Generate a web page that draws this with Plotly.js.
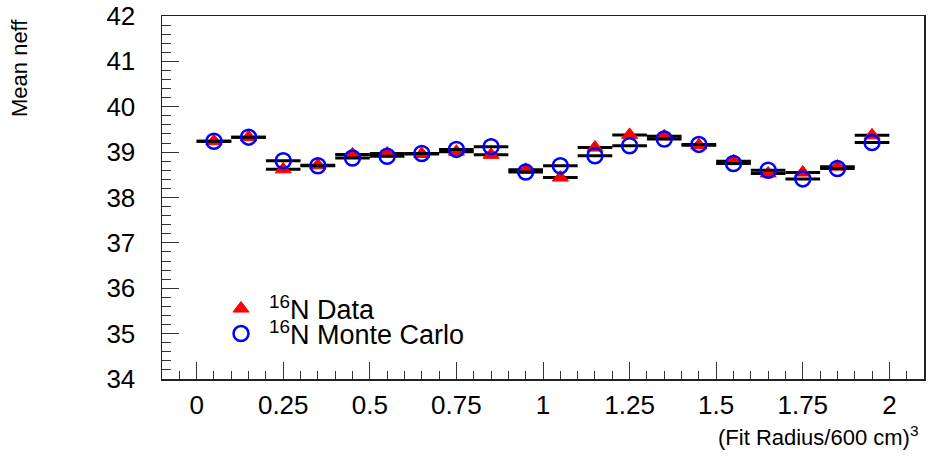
<!DOCTYPE html>
<html>
<head>
<meta charset="utf-8">
<script src="https://cdn.plot.ly/plotly-3.0.1.min.js"></script>
<style>html,body{margin:0;padding:0;background:#fff;}#chart{width:928px;height:456px;}</style>
</head>
<body>
<div id="chart"></div>
<script>
// Bin centres of (Fit Radius/600 cm)^3, bin width 0.1
const binCenters = [0.05, 0.15, 0.25, 0.35, 0.45, 0.55, 0.65, 0.75, 0.85, 0.95,
                    1.05, 1.15, 1.25, 1.35, 1.45, 1.55, 1.65, 1.75, 1.85, 1.95];
const binHalfWidth = 0.05;
// Mean neff, 16N data
const dataNeff = [39.24, 39.33, 38.62, 38.71, 38.95, 38.97, 38.96, 39.01, 38.94, 38.61,
                  38.44, 39.10, 39.38, 39.35, 39.15, 38.80, 38.53, 38.55, 38.68, 39.37];
// Mean neff, 16N Monte Carlo
const mcNeff = [39.24, 39.33, 38.81, 38.70, 38.87, 38.91, 38.97, 39.06, 39.12, 38.56,
                38.70, 38.92, 39.14, 39.29, 39.17, 38.75, 38.60, 38.41, 38.64, 39.21];
const xTickVals = [0, 0.25, 0.5, 0.75, 1, 1.25, 1.5, 1.75, 2];
const xTickText = ["0", "0.25", "0.5", "0.75", "1", "1.25", "1.5", "1.75", "2"];
const yTickVals = [34, 35, 36, 37, 38, 39, 40, 41, 42];
const yTickText = ["34", "35", "36", "37", "38", "39", "40", "41", "42"];
const seriesNames = ["<sup>16</sup>N Data", "<sup>16</sup>N Monte Carlo"];
const xTitle = "(Fit Radius/600 cm)<sup>3</sup>";
const yTitle = "Mean neff";

const FONT = '"Liberation Sans", Arial, Helvetica, sans-serif';
const W = 928, H = 456;
const M = {l: 162, r: 4, t: 16, b: 77};
const pw = W - M.l - M.r, ph = H - M.t - M.b;
const px = x => (x - M.l) / pw;
const py = y => (H - M.b - y) / ph;

const traces = [
  {
    x: binCenters, y: dataNeff, type: 'scatter', mode: 'markers', name: seriesNames[0],
    legend: 'legend',
    marker: {symbol: 'triangle-up', size: 14, color: '#ff0000', line: {color: '#ff0000', width: 1}},
    error_x: {type: 'constant', value: binHalfWidth, width: 0, thickness: 3, color: '#000000'}
  },
  {
    x: binCenters, y: mcNeff, type: 'scatter', mode: 'markers', name: seriesNames[1],
    legend: 'legend2',
    marker: {symbol: 'circle-open', size: 15, color: '#0000ff', line: {color: '#0000ff', width: 2.5}},
    error_x: {type: 'constant', value: binHalfWidth, width: 0, thickness: 3, color: '#000000'}
  }
];

const axisCommon = {
  showgrid: false, zeroline: false, showline: true, mirror: true,
  linecolor: '#222', linewidth: 1.5,
  ticks: 'inside', tickcolor: '#333', tickwidth: 1,
  tickfont: {family: FONT, size: 26, color: '#000'}
};

const legendCommon = {
  xanchor: 'left', yanchor: 'middle', bgcolor: 'rgba(0,0,0,0)', borderwidth: 0,
  font: {family: FONT, size: 27, color: '#000'}, itemwidth: 46
};

const layout = {
  width: W, height: H, margin: M,
  paper_bgcolor: '#fff', plot_bgcolor: '#fff',
  showlegend: true,
  xaxis: Object.assign({}, axisCommon, {
    range: [-0.1, 2.1], tickmode: 'array', tickvals: xTickVals, ticktext: xTickText,
    ticklen: 17, ticklabelstandoff: 2,
    minor: {dtick: 0.05, tick0: 0, ticks: 'inside', ticklen: 8, tickcolor: '#333', tickwidth: 1, showgrid: false}
  }),
  yaxis: Object.assign({}, axisCommon, {
    range: [34, 42], tickmode: 'array', tickvals: yTickVals, ticktext: yTickText,
    ticklen: 17, ticklabelstandoff: 20,
    minor: {dtick: 0.2, tick0: 34, ticks: 'inside', ticklen: 9, tickcolor: '#333', tickwidth: 1, showgrid: false}
  }),
  legend: Object.assign({}, legendCommon, {x: px(213), y: py(309)}),
  legend2: Object.assign({}, legendCommon, {x: px(213), y: py(334)}),
  annotations: [
    {text: xTitle, xref: 'paper', yref: 'paper', x: px(921), y: py(436),
     xanchor: 'right', yanchor: 'middle', showarrow: false,
     font: {family: FONT, size: 22, color: '#000'}},
    {text: yTitle, xref: 'paper', yref: 'paper', x: px(19), y: py(17),
     xanchor: 'center', yanchor: 'top', textangle: -90, showarrow: false,
     font: {family: FONT, size: 22, color: '#000'}}
  ]
};

Plotly.newPlot('chart', traces, layout, {displayModeBar: false, staticPlot: true});
</script>
</body>
</html>
